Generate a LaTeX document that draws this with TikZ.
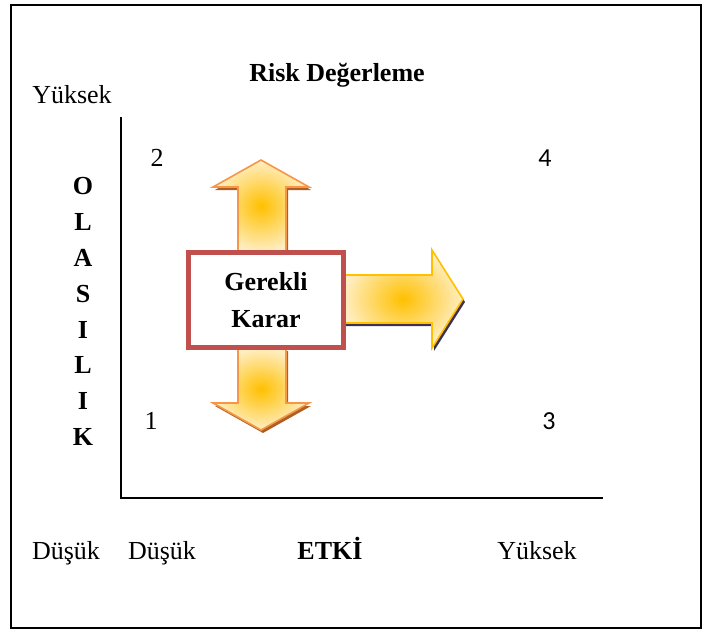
\documentclass[tikz,border=0pt]{standalone}
\usepackage{fontspec}
\setmainfont{Liberation Serif}
\newfontfamily\calibrifont{Carlito}
\definecolor{riskRed}{RGB}{192,80,77}
\definecolor{riskOrange}{RGB}{247,150,70}
\definecolor{riskGold}{RGB}{255,192,0}
\definecolor{riskPale}{RGB}{255,238,195}
\definecolor{riskBrown}{RGB}{175,95,35}
\definecolor{riskPurple}{RGB}{63,49,81}
\usetikzlibrary{positioning}

\begin{document}
\begin{tikzpicture}[x=0.5pt, y=-0.5pt,
    txt/.style={font=\fontsize{13}{15}\selectfont, anchor=base, inner sep=0pt},
    bold/.style={txt, font=\fontsize{13}{15}\selectfont\bfseries},
    num/.style={txt, font=\fontsize{13}{15}\selectfont\calibrifont},
    axis/.style={line width=1pt},
    blockvert/.style={draw=riskOrange, line width=0.8pt, shading=radial,
                      inner color=riskGold, outer color=riskPale},
    blockright/.style={draw=riskGold, line width=0.8pt, shading=radial,
                       inner color=riskGold, outer color=riskPale},
    karar/.style={draw=riskRed, line width=2.5pt, fill=white, align=center,
                  minimum width=77.5pt, minimum height=47.5pt,
                  font=\fontsize{13}{18.5}\selectfont\bfseries}
  ]
  \useasboundingbox (0,0) rectangle (706,633);
  \draw[line width=0.75pt] (11,5) rectangle (701,628);

  \node[bold] (baslik) at (337,81) {Risk Değerleme};
  \node[txt] (yuksekY) at (72,103) {Yüksek};

  \draw[axis] (121,117) -- (121,498) -- (603,498);

  \foreach \c [count=\i] in {O,L,A,S,I,L,I,K}
    \node[bold] (ola\i) at (83,159+35.8*\i) {\c};

  \node[txt] (n2) at (157,166) {2};
  \node[num] (n4) at (545,166) {4};
  \node[txt] (n1) at (151,429) {1};
  \node[num] (n3) at (549,429) {3};

  \node[txt]  (dusukY) at (66,559)  {Düşük};
  \node[txt]  (dusukX) at (162,559) {Düşük};
  \node[bold] (etki)   at (330,559) {ETKİ};
  \node[txt]  (yuksekX) at (537,559) {Yüksek};

  \fill[riskBrown, shift={(2,3)}] (238,252) -- (238,187) -- (213,187) -- (261,160)
    -- (309,187) -- (286,187) -- (286,252) -- cycle;
  \fill[riskBrown, shift={(2,3)}] (238,348) -- (238,403) -- (213,403) -- (261,430)
    -- (309,403) -- (286,403) -- (286,348) -- cycle;
  \fill[riskPurple, shift={(2,3)}] (343,275) -- (432,275) -- (432,250) -- (463,299)
    -- (432,348) -- (432,323) -- (343,323) -- cycle;

  \path[blockvert] (238,252) -- (238,187) -- (213,187) -- (261,160)
    -- (309,187) -- (286,187) -- (286,252) -- cycle;
  \path[blockvert] (238,348) -- (238,403) -- (213,403) -- (261,430)
    -- (309,403) -- (286,403) -- (286,348) -- cycle;
  \path[blockright] (343,275) -- (432,275) -- (432,250) -- (463,299)
    -- (432,348) -- (432,323) -- (343,323) -- cycle;

  \node[karar] (gerekli) at (266,300) {Gerekli\\Karar};
\end{tikzpicture}
\end{document}
